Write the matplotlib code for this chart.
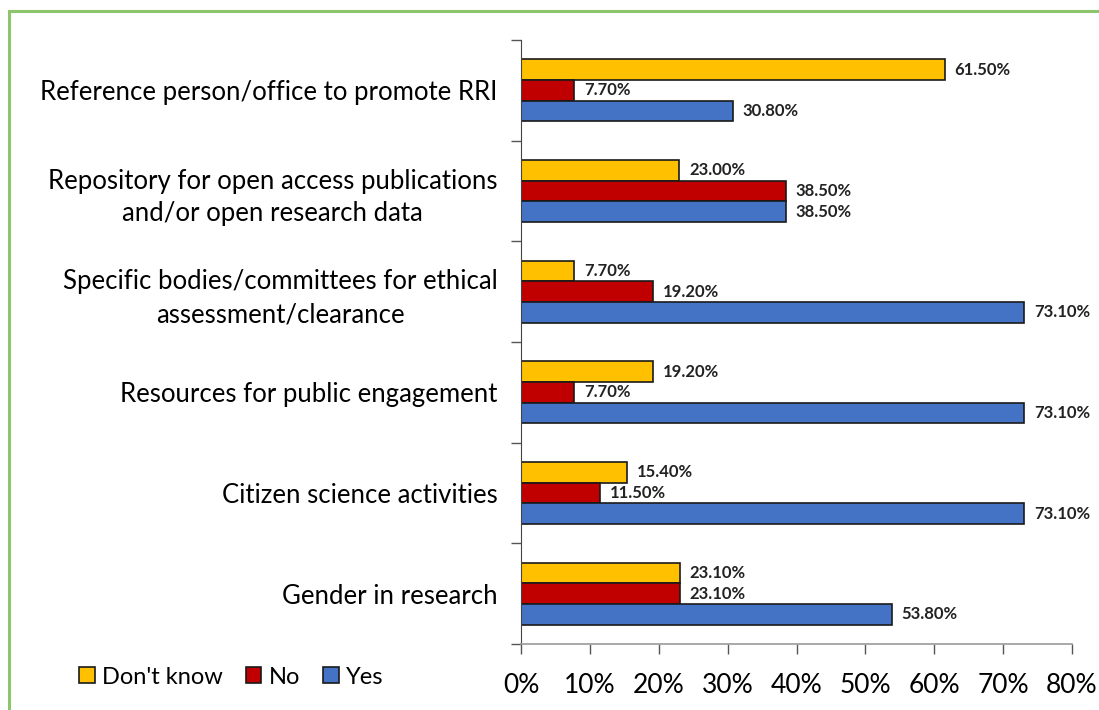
import matplotlib
matplotlib.use("Agg")
import matplotlib.pyplot as plt
from matplotlib.patches import Rectangle, Patch
import numpy as np

plt.rcParams["font.family"] = ["Lato", "DejaVu Sans"]

# データ
categories = [
    "Reference person/office to promote RRI",
    "Repository for open access publications\nand/or open research data",
    "Specific bodies/committees for ethical\nassessment/clearance",
    "Resources for public engagement",
    "Citizen science activities",
    "Gender in research",
]
dont_know = [61.5, 23.0, 7.7, 19.2, 15.4, 23.1]
no_vals = [7.7, 38.5, 19.2, 7.7, 11.5, 23.1]
yes_vals = [30.8, 38.5, 73.1, 73.1, 73.1, 53.8]
series_names = ["Don't know", "No", "Yes"]
colors = ["#FFC000", "#C00000", "#4472C4"]
x_ticks = [0, 10, 20, 30, 40, 50, 60, 70, 80]

W, H = 1099, 710
fig = plt.figure(figsize=(W / 100, H / 100), dpi=100)

# 緑の枠線
fig.patches.append(Rectangle(
    (9 / W, -0.1), 1.2, 1 - 11 / H + 0.1,
    transform=fig.transFigure, fill=False, edgecolor="#8CC56B", linewidth=2.2,
))

ax = fig.add_axes([521 / W, 1 - 644 / H, (1072 - 521) / W, (644 - 40) / H])

n = len(categories)
y = np.arange(n)
bh = 0.205
for i, (vals, c) in enumerate(zip([dont_know, no_vals, yes_vals], colors)):
    pos = y + (i - 1) * bh
    ax.barh(pos, vals, height=bh, color=c, edgecolor="#1a1a1a", linewidth=1.2)
    for p, v in zip(pos, vals):
        ax.annotate(f"{v:.2f}%", xy=(v, p), xytext=(7, 0), textcoords="offset points",
                    va="center", ha="left", fontsize=12, fontweight="bold", color="#222222")

ax.set_ylim(n - 0.5, -0.5)
ax.set_xlim(0, 80)
ax.set_xticks(x_ticks)
ax.set_xticklabels([f"{t}%" for t in x_ticks], fontsize=19)
ax.set_yticks(np.arange(n + 1) - 0.5, minor=False)
ax.set_yticklabels([])
ax.set_yticks(y, minor=True)
ax.set_yticklabels(categories, minor=True, fontsize=18.5, ha="right",
                   multialignment="center", linespacing=1.4)
ax.tick_params(axis="y", which="minor", length=0, pad=17)
ax.tick_params(axis="y", which="major", length=7, width=1, color="#555555")
ax.tick_params(axis="x", length=7, width=1, color="#555555", pad=14)

for s in ["top", "right"]:
    ax.spines[s].set_visible(False)
ax.spines["left"].set_color("#444444")
ax.spines["bottom"].set_color("#999999")
ax.spines["bottom"].set_linewidth(1.2)

# 凡例
handles = [Patch(facecolor=c, edgecolor="#1a1a1a", linewidth=1.2) for c in colors]
fig.legend(handles, series_names, loc="center left", bbox_to_anchor=(58 / W, 1 - 677 / H),
           ncol=3, frameon=False, fontsize=17, handlelength=0.65, handleheight=0.65,
           handletextpad=0.3, columnspacing=1.0)

fig.savefig("out.png", dpi=100)
